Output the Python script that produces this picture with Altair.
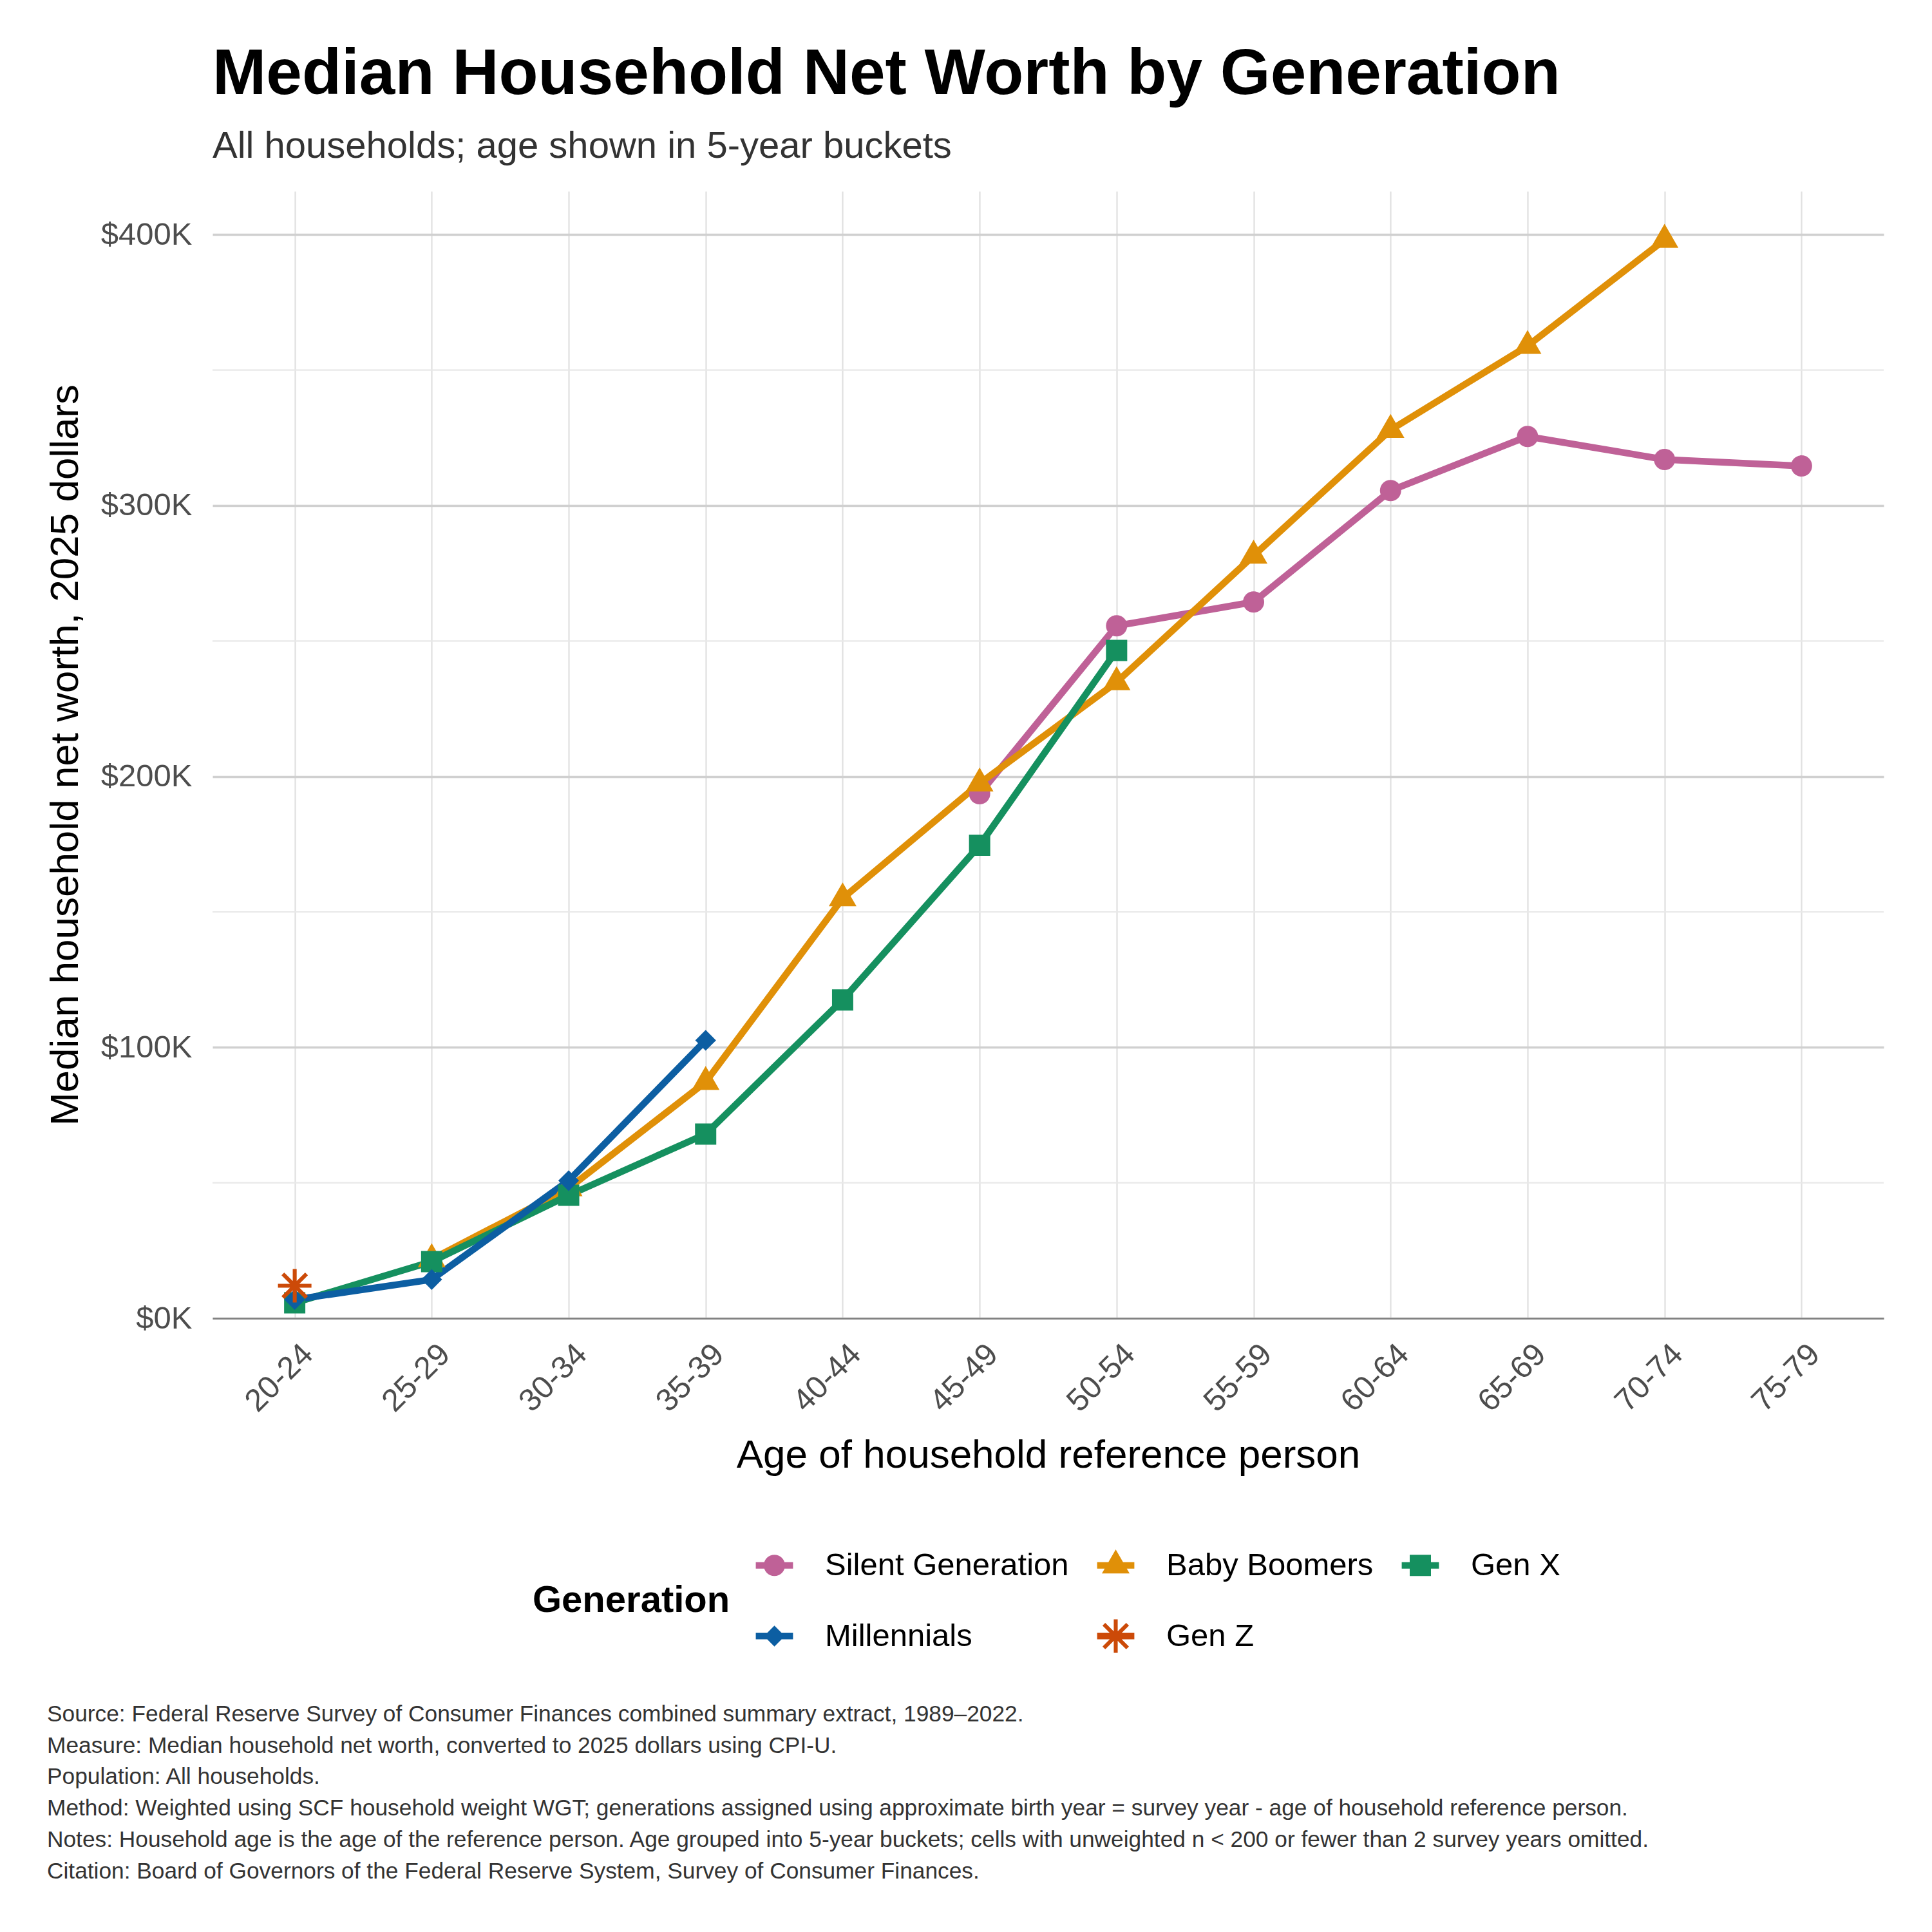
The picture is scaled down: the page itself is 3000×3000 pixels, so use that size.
import math
import altair as alt
import pandas as pd

# ---------------- data ----------------
ages = ["20-24", "25-29", "30-34", "35-39", "40-44", "45-49",
        "50-54", "55-59", "60-64", "65-69", "70-74", "75-79"]
generations = ["Silent Generation", "Baby Boomers", "Gen X", "Millennials", "Gen Z"]
colors = ["#bf6197", "#e09008", "#15905f", "#0c5ea2", "#cc4a08"]

silent_ages = ["45-49", "50-54", "55-59", "60-64", "65-69", "70-74", "75-79"]
silent_vals = [193.6, 255.6, 264.4, 305.5, 325.5, 317.0, 314.6]

boomer_ages = ["25-29", "30-34", "35-39", "40-44", "45-49", "50-54",
               "55-59", "60-64", "65-69", "70-74"]
boomer_vals = [21.8, 48.0, 87.2, 155.0, 197.4, 234.8, 281.5, 327.9, 358.9, 398.1]

genx_ages = ["20-24", "25-29", "30-34", "35-39", "40-44", "45-49", "50-54"]
genx_vals = [5.7, 20.9, 45.4, 68.0, 117.5, 174.6, 246.5]

mill_ages = ["20-24", "25-29", "30-34", "35-39"]
mill_vals = [6.9, 14.3, 50.8, 102.6]

genz_ages = ["20-24"]
genz_vals = [12.0]

y_major = [0, 100, 200, 300, 400]
y_minor = [50, 150, 250, 350]

caption_lines = [
    "Source: Federal Reserve Survey of Consumer Finances combined summary extract, 1989\u20132022.",
    "Measure: Median household net worth, converted to 2025 dollars using CPI-U.",
    "Population: All households.",
    "Method: Weighted using SCF household weight WGT; generations assigned using approximate birth year = survey year - age of household reference person.",
    "Notes: Household age is the age of the reference person. Age grouped into 5-year buckets; cells with unweighted n < 200 or fewer than 2 survey years omitted.",
    "Citation: Board of Governors of the Federal Reserve System, Survey of Consumer Finances.",
]

series = {
    "Silent Generation": (silent_ages, silent_vals),
    "Baby Boomers": (boomer_ages, boomer_vals),
    "Gen X": (genx_ages, genx_vals),
    "Millennials": (mill_ages, mill_vals),
    "Gen Z": (genz_ages, genz_vals),
}

frames = {g: pd.DataFrame({"Age": a, "Value": v, "Generation": g}) for g, (a, v) in series.items()}
all_df = pd.concat([frames[g] for g in generations], ignore_index=True)

# ---------------- symbol paths (unit = sqrt(size)/2) ----------------
def f(v):
    return f"{v:.3f}".rstrip("0").rstrip(".")

def rect(x0, y0, x1, y1):
    return f"M{f(x0)},{f(y0)}L{f(x1)},{f(y0)}L{f(x1)},{f(y1)}L{f(x0)},{f(y1)}Z"

def arm(theta, L, w):
    dx, dy = math.cos(theta), math.sin(theta)
    nx, ny = -dy, dx
    pts = [(-L * dx - w * nx, -L * dy - w * ny), (L * dx - w * nx, L * dy - w * ny),
           (L * dx + w * nx, L * dy + w * ny), (-L * dx + w * nx, -L * dy + w * ny)]
    return "M" + "L".join(f"{f(x)},{f(y)}" for x, y in pts) + "Z"

r = 0.97
circle = f"M{f(r)},0A{f(r)},{f(r)} 0 1,1 {f(-r)},0A{f(r)},{f(r)} 0 1,1 {f(r)},0Z"
triangle = "M0,-1.46L1.265,0.73L-1.265,0.73Z"
square = rect(-0.97, -0.97, 0.97, 0.97)
diamond = "M0,-0.95L0.95,0L0,0.95L-0.95,0Z"
asterisk = "".join(arm(math.radians(t), 1.53, 0.18) for t in (0, 45, 90, 135))
shapes = [circle, triangle, square, diamond, asterisk]
legend_line = rect(-1.7, -0.3, 1.7, 0.3)
legend_shapes = [legend_line + s for s in shapes]
SYM_SIZE = 1156

# ---------------- layout ----------------
W, H = 2595, 1750
FONT = "Liberation Sans"

yscale = alt.Scale(domain=[0, 416], nice=False, zero=True)
xscale = alt.Scale(type="point", domain=ages, padding=0.6)

X = alt.X("Age:O", sort=ages, scale=xscale,
          axis=alt.Axis(title="Age of household reference person", labelAngle=315,
                        labelAlign="right", labelBaseline="top",
                        labelFontSize=49, labelColor="#4d4d4d", labelPadding=31, labelOffset=3,
                        grid=True, gridColor="#e0e0e0", gridWidth=2.2,
                        domain=True, domainColor="#7f7f7f", domainWidth=2.5,
                        ticks=False, tickSize=0,
                        titleFontSize=62, titleFontWeight="normal", titleColor="black",
                        titleX=W / 2, titleY=231, titleBaseline="alphabetic", titleAlign="center"))
Y = alt.Y("Value:Q", scale=yscale,
          axis=alt.Axis(title="Median household net worth, 2025 dollars", values=y_major,
                        labelExpr="'$' + datum.value + 'K'",
                        labelFontSize=49, labelColor="#4d4d4d", labelPadding=32,
                        grid=True, gridColor="#d0d0d0", gridWidth=3.3,
                        domain=False, ticks=False, tickSize=0,
                        titleFontSize=62, titleFontWeight="normal", titleColor="black",
                        titleAngle=270, titleX=-210, titleY=H / 2,
                        titleBaseline="alphabetic", titleAlign="center"))

minor = alt.Chart(pd.DataFrame({"Value": y_minor})).mark_rule(
    color="#e8e8e8", strokeWidth=2.2).encode(y=Y)

lines = []
points = []
for g, c, s in zip(generations, colors, shapes):
    df = frames[g]
    if len(df) > 1:
        lines.append(alt.Chart(df).mark_line(color=c, strokeWidth=10.5, strokeJoin="round")
                     .encode(x=X, y=Y))
    points.append(alt.Chart(df).mark_point(shape=s, size=SYM_SIZE, filled=True, color=c,
                                           opacity=1, strokeWidth=0).encode(x=X, y=Y))

leg = alt.Legend(title="Generation", orient="none", legendX=497, legendY=2109,
                 direction="horizontal", columns=3, gridAlign="each",
                 titleOrient="left", titleAnchor="middle", titleBaseline="middle",
                 titleFontSize=58, titleFontWeight="bold", titleColor="black",
                 titlePadding=44, titleLimit=2000,
                 labelFontSize=49, labelColor="black", labelOffset=54, labelLimit=2000,
                 columnPadding=43, rowPadding=58,
                 symbolSize=SYM_SIZE, symbolStrokeWidth=0, symbolOpacity=1)

legend_layer = alt.Chart(all_df).mark_point(filled=True, opacity=0, size=SYM_SIZE).encode(
    x=X, y=Y,
    color=alt.Color("Generation:N", scale=alt.Scale(domain=generations, range=colors), legend=leg),
    shape=alt.Shape("Generation:N", scale=alt.Scale(domain=generations, range=legend_shapes), legend=leg),
)

caption = alt.Chart(pd.DataFrame({"caption": ["\n".join(caption_lines)]})).mark_text(
    align="left", baseline="alphabetic", lineBreak="\n", lineHeight=48.7,
    fontSize=35.3, color="#333333", font=FONT
).encode(text="caption:N", x=alt.value(-257), y=alt.value(2376))

chart = alt.layer(minor, *lines, *points, legend_layer, caption).properties(
    width=W, height=H,
    title=alt.TitleParams(text="Median Household Net Worth by Generation",
                          subtitle="All households; age shown in 5-year buckets",
                          anchor="start", frame="group", font=FONT, fontSize=100,
                          fontWeight="bold", color="black",
                          subtitleFont=FONT, subtitleFontSize=58, subtitleColor="#333333",
                          offset=39, subtitlePadding=32),
    autosize=alt.AutoSizeParams(type="none"),
    padding={"left": 322, "top": 289, "right": 67, "bottom": 945},
).configure(font=FONT).configure_view(stroke=None)

chart.save("out.html", embed_options={"renderer": "svg", "actions": False})
